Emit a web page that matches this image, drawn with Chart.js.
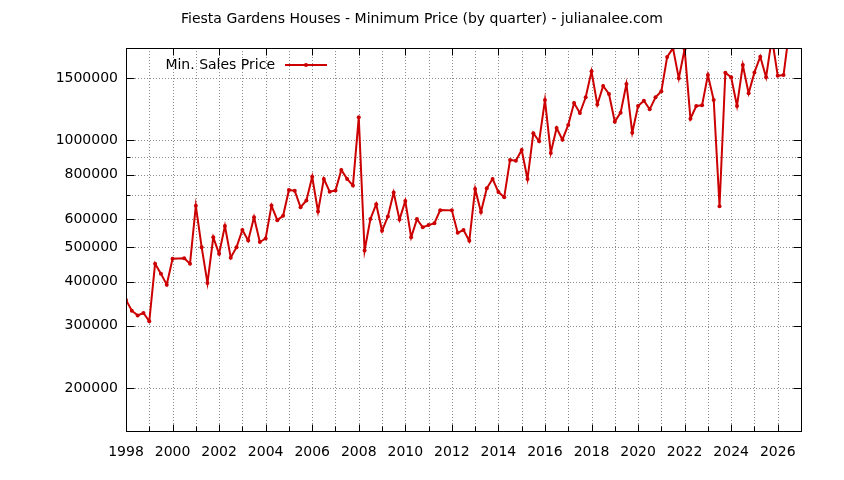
<!DOCTYPE html>
<html><head><meta charset="utf-8">
<script src="https://cdn.jsdelivr.net/npm/chart.js@4.4.0/dist/chart.umd.min.js"></script>
<style>html,body{margin:0;padding:0;background:#fff;}#wrap{width:844px;height:480px;position:relative}</style>
</head><body><div id="wrap"><canvas id="c" width="844" height="480"></canvas></div>
<script>
const chartTitle = 'Fiesta Gardens Houses - Minimum Price (by quarter) - julianalee.com';
const seriesName = 'Min. Sales Price';
// quarter positions (decimal year) and minimum price per quarter (null = no sale)
const quarters = [
  1998.00,1998.25,1998.50,1998.75, 1999.00,1999.25,1999.50,1999.75,
  2000.00,2000.25,2000.50,2000.75, 2001.00,2001.25,2001.50,2001.75,
  2002.00,2002.25,2002.50,2002.75, 2003.00,2003.25,2003.50,2003.75,
  2004.00,2004.25,2004.50,2004.75, 2005.00,2005.25,2005.50,2005.75,
  2006.00,2006.25,2006.50,2006.75, 2007.00,2007.25,2007.50,2007.75,
  2008.00,2008.25,2008.50,2008.75, 2009.00,2009.25,2009.50,2009.75,
  2010.00,2010.25,2010.50,2010.75, 2011.00,2011.25,2011.50,2011.75,
  2012.00,2012.25,2012.50,2012.75, 2013.00,2013.25,2013.50,2013.75,
  2014.00,2014.25,2014.50,2014.75, 2015.00,2015.25,2015.50,2015.75,
  2016.00,2016.25,2016.50,2016.75, 2017.00,2017.25,2017.50,2017.75,
  2018.00,2018.25,2018.50,2018.75, 2019.00,2019.25,2019.50,2019.75,
  2020.00,2020.25,2020.50,2020.75, 2021.00,2021.25,2021.50,2021.75,
  2022.00,2022.25,2022.50,2022.75, 2023.00,2023.25,2023.50,2023.75,
  2024.00,2024.25,2024.50,2024.75, 2025.00,2025.25,2025.50,2025.75,
  2026.00,2026.25,2026.50
];
const prices = [
  355000, 331000, 321000, 326000,   309000, 449000, 421000, 392000,
  464000, null,   465000, 449000,   654000, 500000, 396000, 533000,
  479000, 574000, 467000, 500000,   559000, 522000, 607000, 517000,
  529000, 655000, 596000, 613000,   725000, 721000, 648000, 677000,
  790000, 630000, 779000, 717000,   722000, 826000, 779000, 746000,
  1162000,489000, 600000, 661000,   556000, 610000, 713000, 598000,
  675000, 533000, 600000, 569000,   577000, 584000, 636000, null,
  635000, 549000, 559000, 521000,   730000, 628000, 733000, 779000,
  715000, 692000, 881000, 877000,   940000, 778000, 1048000,995000,
  1300000,922000, 1084000,1005000,  1106000,1275000,1195000,1324000,
  1567000,1262000,1424000,1352000,  1130000,1198000,1443000,1052000,
  1251000,1294000,1224000,1324000,  1376000,1720000,1822000,1497000,
  1810000,1152000,1251000,1256000,  1529000,1300000,652000, 1553000,
  1507000,1251000,1632000,1358000,  1556000,1722000,1507000,1950000,
  1523000,1529000,2050000
];
const yTickValues = [200000,300000,400000,500000,600000,700000,800000,900000,1000000,1500000];
const yTickLabels = ['200000','300000','400000','500000','600000','','800000','','1000000','1500000'];
const xTickYears = [1998,2000,2002,2004,2006,2008,2010,2012,2014,2016,2018,2020,2022,2024,2026];
const xMin = 1998, xMax = 2027, yMin = 151500, yMax = 1823000;

const FONT = 'DejaVu Sans';
const FONT_SIZE = 14;
const LINE_COLOR = '#cc0000';
const GRID_COLOR = '#8c8c8c';

const gridPlugin = {
  id: 'gnuGrid',
  beforeDatasetsDraw(chart) {
    const {ctx, chartArea: a, scales: {x, y}} = chart;
    ctx.save();
    ctx.strokeStyle = GRID_COLOR;
    ctx.lineWidth = 1;
    ctx.setLineDash([1, 2]);
    for (let yr = xMin + 1; yr < xMax; yr++) {
      const px = Math.round(x.getPixelForValue(yr)) + 0.5;
      ctx.beginPath(); ctx.moveTo(px, a.top); ctx.lineTo(px, a.bottom); ctx.stroke();
    }
    yTickValues.forEach(v => {
      const py = Math.round(y.getPixelForValue(v)) + 0.5;
      ctx.beginPath(); ctx.moveTo(a.left, py); ctx.lineTo(a.right, py); ctx.stroke();
    });
    ctx.restore();
  },
  afterDraw(chart) {
    const {ctx, chartArea: a, scales: {x, y}} = chart;
    ctx.save();
    ctx.setLineDash([]);
    ctx.strokeStyle = '#000';
    ctx.lineWidth = 1;
    const L = Math.round(a.left) + 0.5, R = Math.round(a.right) + 0.5;
    const T = Math.round(a.top) + 0.5, B = Math.round(a.bottom) + 0.5;
    ctx.strokeRect(L, T, R - L, B - T);
    // x ticks (inward, mirrored)
    for (let yr = xMin + 1; yr < xMax; yr++) {
      const px = Math.round(x.getPixelForValue(yr)) + 0.5;
      const len = (yr % 2 === 0) ? 7 : 5;
      ctx.beginPath(); ctx.moveTo(px, B); ctx.lineTo(px, B - len); ctx.stroke();
      if (yr % 2 === 0) { ctx.beginPath(); ctx.moveTo(px, T); ctx.lineTo(px, T + len); ctx.stroke(); }
    }
    // y ticks
    yTickValues.forEach((v, i) => {
      const py = Math.round(y.getPixelForValue(v)) + 0.5;
      const len = yTickLabels[i] ? 8 : 4;
      ctx.beginPath(); ctx.moveTo(L, py); ctx.lineTo(L + len, py); ctx.stroke();
      ctx.beginPath(); ctx.moveTo(R, py); ctx.lineTo(R - len, py); ctx.stroke();
    });
    // title
    ctx.fillStyle = '#000';
    ctx.font = FONT_SIZE + 'px "' + FONT + '"';
    ctx.textAlign = 'center';
    ctx.textBaseline = 'middle';
    ctx.fillText(chartTitle, 422, 19);
    // legend
    ctx.textAlign = 'right';
    ctx.fillText(seriesName, 275, 65);
    ctx.strokeStyle = LINE_COLOR;
    ctx.lineWidth = 2;
    ctx.beginPath(); ctx.moveTo(285, 65); ctx.lineTo(327, 65); ctx.stroke();
    ctx.fillStyle = LINE_COLOR;
    ctx.beginPath(); ctx.arc(306, 65, 2, 0, Math.PI * 2); ctx.fill();
    ctx.restore();
  }
};

new Chart(document.getElementById('c'), {
  type: 'line',
  data: {
    datasets: [{
      label: seriesName,
      data: quarters.map((q, i) => ({x: q, y: prices[i]})),
      borderColor: LINE_COLOR,
      backgroundColor: LINE_COLOR,
      borderWidth: 2,
      pointRadius: 2,
      pointHoverRadius: 2,
      pointBorderWidth: 0,
      spanGaps: true,
      tension: 0,
      clip: 0
    }]
  },
  options: {
    responsive: false,
    animation: false,
    devicePixelRatio: 1,
    layout: {padding: {left: 0, right: 43, top: 48, bottom: 0}},
    plugins: {legend: {display: false}, title: {display: false}, tooltip: {enabled: false}},
    scales: {
      x: {
        type: 'linear', min: xMin, max: xMax,
        grid: {display: false, drawTicks: false},
        border: {display: false},
        afterBuildTicks: s => { s.ticks = xTickYears.map(v => ({value: v})); },
        afterFit: s => { s.height = 49; },
        ticks: {
          autoSkip: false, maxRotation: 0, padding: 13,
          color: '#000', font: {family: FONT, size: FONT_SIZE},
          callback: v => String(v)
        }
      },
      y: {
        type: 'logarithmic', min: yMin, max: yMax,
        grid: {display: false, drawTicks: false},
        border: {display: false},
        afterBuildTicks: s => { s.ticks = yTickValues.map(v => ({value: v})); },
        afterFit: s => { s.width = 126; },
        ticks: {
          autoSkip: false, padding: 8,
          color: '#000', font: {family: FONT, size: FONT_SIZE},
          callback: v => { const i = yTickValues.indexOf(v); return i >= 0 ? yTickLabels[i] : ''; }
        }
      }
    }
  },
  plugins: [gridPlugin]
});
</script>
</body></html>
